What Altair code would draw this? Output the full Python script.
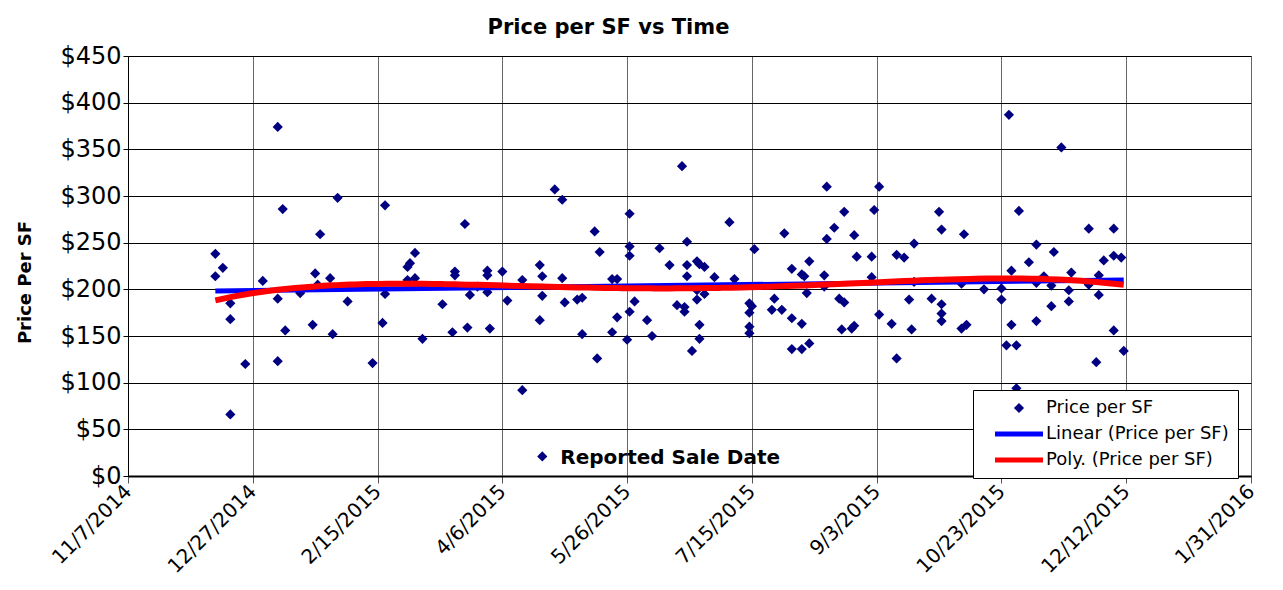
import altair as alt
import pandas as pd

# Days after 11/7/2014 of each reported sale, and its price per SF ($)
sale_day = [35, 38, 35, 41, 41, 41, 47, 54, 60, 62, 60, 60, 63, 69, 74, 75, 76, 77, 81, 82,
            84, 88, 98, 102, 103, 103, 112, 112, 113, 115, 115, 118, 126, 130, 131, 131, 136, 135, 137, 140,
            144, 144, 144, 145, 150, 152, 158, 158, 165, 165, 166, 166, 171, 174, 174, 175, 180, 182, 182, 187,
            188, 189, 194, 194, 196, 196, 200, 201, 201, 201, 201, 203, 208, 210, 213, 217, 220, 222, 223, 223,
            224, 224, 224, 226, 228, 229, 228, 228, 229, 229, 231, 231, 235, 241, 243, 249, 250, 249, 249, 249,
            251, 259, 258, 262, 263, 266, 266, 266, 270, 270, 270, 271, 272, 273, 273, 279, 279, 280, 280, 283,
            285, 287, 286, 287, 290, 291, 291, 292, 298, 299, 298, 301, 301, 306, 308, 311, 308, 313, 314, 315,
            315, 322, 325, 326, 326, 326, 326, 334, 336, 334, 335, 343, 350, 350, 353, 352, 354, 354, 356, 356,
            357, 361, 364, 364, 364, 367, 370, 370, 371, 374, 377, 377, 378, 385, 385, 388, 389, 389, 391, 395,
            395, 395, 398, 399]
price_per_sf = [238, 223, 214, 185, 168, 66, 120, 209, 374, 286, 190, 123, 156, 196, 162, 217, 205, 259, 212, 152,
                298, 187, 121, 164, 195, 290, 210, 224, 228, 239, 212, 147, 184, 154, 219, 215, 159, 270, 194, 203,
                215, 220, 197, 158, 219, 188, 210, 92, 167, 226, 214, 193, 307, 296, 212, 186, 189, 191, 152, 262,
                126, 240, 154, 211, 211, 170, 146, 176, 281, 246, 236, 187, 167, 150, 244, 226, 183, 332, 181, 176,
                251, 226, 214, 134, 230, 227, 189, 199, 162, 147, 224, 195, 213, 272, 211, 185, 182, 175, 160, 153,
                243, 190, 178, 178, 260, 222, 169, 136, 163, 136, 216, 214, 196, 230, 142, 215, 203, 254, 310, 266,
                190, 186, 157, 283, 158, 161, 258, 235, 235, 285, 213, 310, 173, 163, 237, 234, 126, 189, 157, 249,
                208, 190, 283, 264, 184, 174, 166, 158, 162, 206, 259, 200, 201, 189, 387, 140, 220, 162, 140, 94,
                284, 229, 248, 207, 166, 214, 204, 182, 240, 352, 187, 199, 218, 265, 205, 122, 215, 194, 231, 156,
                265, 236, 234, 134]

# Stray marker labelled in the plot
note_day = [166]
note_price = [21]
note_text = ["Reported Sale Date"]

series_names = ["Price per SF", "Linear (Price per SF)", "Poly. (Price per SF)"]
series_colors = ["#000080", "#0000FF", "#FF0000"]
tick_dates = ["2014-11-07", "2014-12-27", "2015-02-15", "2015-04-06", "2015-05-26",
              "2015-07-15", "2015-09-03", "2015-10-23", "2015-12-12", "2016-01-31"]
price_ticks = [0, 50, 100, 150, 200, 250, 300, 350, 400, 450]

FONT = "DejaVu Sans"
DIAMOND = "M0,-0.85L0.85,0L0,0.85L-0.85,0Z"
BAR = "M-4,-0.42L4,-0.42L4,0.42L-4,0.42Z"
SYM = 144

df = pd.DataFrame({"day": sale_day, "price": price_per_sf})
note_df = pd.DataFrame({"day": note_day, "price": note_price, "label": note_text})


def dt(s):
    t = pd.Timestamp(s)
    return alt.DateTime(year=t.year, month=t.month, date=t.day)


tick_vals = [dt(s) for s in tick_dates]
date_expr = "datetime(2014, 10, 7 + datum.day)"

x_enc = alt.X(
    "date:T",
    scale=alt.Scale(domain=[tick_vals[0], tick_vals[-1]], nice=False),
    axis=alt.Axis(values=tick_vals, format="%-m/%-d/%Y", labelAngle=315, labelAlign="right",
                  labelBaseline="middle", labelFont=FONT, labelFontSize=20, labelColor="black",
                  labelPadding=5, tickSize=7, tickColor="#555", domainColor="black", domainWidth=2,
                  gridColor="#666", gridWidth=1, title=None, labelOverlap=False),
)
y_enc = alt.Y(
    "price:Q",
    scale=alt.Scale(domain=[0, 450], nice=False),
    axis=alt.Axis(values=price_ticks, format="$.0f", labelFont=FONT, labelFontSize=24,
                  labelColor="black", labelPadding=2, tickSize=5, tickColor="black",
                  domainColor="black", gridColor="black", gridWidth=1,
                  title="Price Per SF", titleFont=FONT, titleFontSize=18, titleFontWeight="bold",
                  titleAngle=270, titleAlign="center", titleBaseline="middle", titleX=-103, titleY=226,
                  titleColor="black"),
)

color_enc = alt.Color("series:N", scale=alt.Scale(domain=series_names, range=series_colors),
                      legend=alt.Legend(title=None))

points = (
    alt.Chart(df)
    .transform_calculate(date=date_expr, series="'Price per SF'")
    .mark_point(filled=True, size=SYM, opacity=1)
    .encode(
        x=x_enc, y=y_enc, color=color_enc,
        shape=alt.Shape("series:N", scale=alt.Scale(domain=series_names, range=[DIAMOND, BAR, BAR]),
                        legend=alt.Legend(title=None)),
    )
)

linear = (
    alt.Chart(df)
    .transform_regression("day", "price", method="linear")
    .transform_calculate(date=date_expr, series="'Linear (Price per SF)'")
    .mark_line(strokeWidth=5)
    .encode(x="date:T", y="price:Q", color=color_enc)
)

poly = (
    alt.Chart(df)
    .transform_regression("day", "price", method="poly", order=4)
    .transform_calculate(date=date_expr, series="'Poly. (Price per SF)'")
    .mark_line(strokeWidth=6)
    .encode(x="date:T", y="price:Q", color=color_enc)
)

note_pt = (
    alt.Chart(note_df)
    .transform_calculate(date=date_expr)
    .mark_point(filled=True, size=SYM, shape=DIAMOND, color="#000080", opacity=1)
    .encode(x="date:T", y="price:Q")
)
note_lbl = (
    alt.Chart(note_df)
    .transform_calculate(date=date_expr)
    .mark_text(align="left", baseline="middle", dx=18, dy=2, font=FONT, fontSize=20,
               fontWeight="bold", color="black")
    .encode(x="date:T", y="price:Q", text="label:N")
)

chart = (
    alt.layer(points, linear, poly, note_pt, note_lbl)
    .properties(
        width=1123, height=420,
        padding={"left": 120, "top": 48, "right": 24, "bottom": 108},
        autosize=alt.AutoSizeParams(type="none"),
        title=alt.Title("Price per SF vs Time", font=FONT, fontSize=21, fontWeight="bold",
                        color="black", anchor="middle", dx=-81, offset=6),
    )
    .configure_view(stroke="#777", strokeWidth=1)
    .configure_legend(orient="none", legendX=845, legendY=334, padding=9, fillColor="white",
                      strokeColor="black", strokeWidth=1, symbolSize=SYM, symbolOffset=28,
                      symbolStrokeWidth=0, labelFont=FONT, labelFontSize=18, labelColor="black",
                      labelOffset=18, rowPadding=8, labelLimit=400)
)

chart.save("out.html", embed_options={"renderer": "svg", "actions": False})
